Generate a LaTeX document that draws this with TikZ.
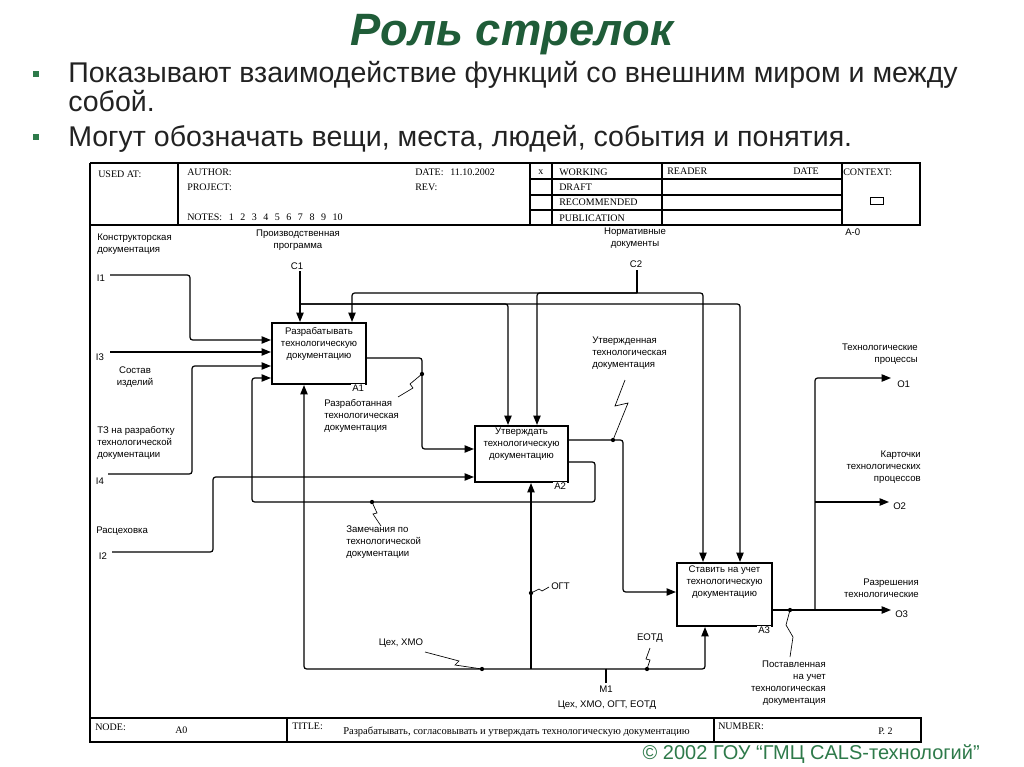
\documentclass[tikz,border=0pt]{standalone}
\usepackage{fontspec}
\setmainfont{Liberation Sans}
\newfontfamily\hdrfont{Liberation Serif}
\usetikzlibrary{arrows.meta,positioning,fit}
\definecolor{slGreen}{HTML}{1F5C38}
\definecolor{slBullet}{HTML}{2E7A4A}
\definecolor{slText}{HTML}{222222}

\begin{document}
\begin{tikzpicture}[
    x=0.75pt, y=-0.75pt,
    fbox/.style={draw, line width=1.6pt, inner sep=0pt},
    ftext/.style={align=center, font=\fontsize{7.2}{9}\selectfont, inner sep=0pt,
                  anchor=north, execute at begin node=\strut},
    lbl/.style={font=\fontsize{7.2}{9}\selectfont, inner sep=0pt,
                execute at begin node=\strut},
    boxnum/.style={font=\fontsize{7.2}{9}\selectfont, fill=white, inner sep=0.6pt,
                   anchor=north east},
    hdr/.style={font=\hdrfont\fontsize{7.5}{9}\selectfont, inner sep=0pt, anchor=base west},
    arr/.style={line width=0.9pt, rounded corners=2pt, -{Triangle[length=7pt,width=5.5pt]}},
    wire/.style={line width=0.9pt, rounded corners=2pt},
    squig/.style={line width=0.5pt},
    frame/.style={line width=0.8pt},
    jdot/.style={circle, fill, inner sep=0pt, minimum size=3.2pt},
    bullet/.style={fill=slBullet, inner sep=0pt, minimum size=5.2pt},
    slide/.style={font=\fontsize{21.4}{25}\selectfont, text=slText, inner sep=0pt, anchor=base west}
]
\useasboundingbox (0,0) rectangle (1024,767);
\fill[white] (0,0) rectangle (1024,767);

% -- slide heading and bullets
\node[font=\fontsize{34}{40}\selectfont\bfseries\itshape, text=slGreen, inner sep=0pt,
      anchor=base] (title) at (512,46) {Роль стрелок};
\node[bullet] (b1) at (36,74) {};
\node[slide] (b1a) at (68,83) {Показывают взаимодействие функций со внешним миром и между};
\node[slide] (b1b) at (68,111) {собой.};
\node[bullet] (b2) at (36,137) {};
\node[slide] (b2a) at (68,146) {Могут обозначать вещи, места, людей, события и понятия.};

% -- form frame: header
\draw[frame] (90,163) -- (920,163) -- (920,225) -- (90,225);
\draw[frame] (90,163) -- (90,742);
\foreach \xx in {178,530,552,662,842}
  \draw[frame] (\xx,163) -- (\xx,225);
\foreach \yy in {179,195,210}
  \draw[frame] (530,\yy) -- (842,\yy);
\draw[line width=0.6pt] (870.5,197.5) rectangle (883.5,204.5);

\node[hdr] (usedat) at (98,177) {USED AT:};
\node[hdr] (author) at (187,175) {AUTHOR:};
\node[hdr] (project) at (187,190) {PROJECT:};
\node[hdr] (notes) at (187,220) {\spaceskip=4.9pt\relax NOTES: 1 2 3 4 5 6 7 8 9 10};
\node[hdr] (date) at (415,175) {DATE:\hspace{5pt}11.10.2002};
\node[hdr] (rev) at (415,190) {REV:};
\node[hdr] (xmark) at (538,174.5) {x};
\node[hdr] (working) at (559,175) {WORKING};
\node[hdr] (draft) at (559,190) {DRAFT};
\node[hdr] (recomm) at (559,205.5) {RECOMMENDED};
\node[hdr] (public) at (559,221) {PUBLICATION};
\node[hdr] (reader) at (667,174) {READER};
\node[hdr] (rdate) at (793,174) {DATE};
\node[hdr] (context) at (843,175) {CONTEXT:};
\node[lbl, anchor=north west] (ctxnode) at (845,227) {A-0};

% -- form frame: footer
\draw[frame] (90,718) rectangle (921,742);
\draw[frame] (287,718) -- (287,742);
\draw[frame] (714,718) -- (714,742);
\node[hdr] (nodelbl) at (95,730) {NODE:};
\node[hdr] (nodeval) at (175,733) {A0};
\node[hdr] (titlelbl) at (292,729) {TITLE:};
\node[hdr, font=\hdrfont\fontsize{7.9}{9}\selectfont] (titleval) at (343,734)
  {Разрабатывать, согласовывать и утверждать технологическую документацию};
\node[hdr] (numlbl) at (718,729) {NUMBER:};
\node[hdr] (numval) at (878,734) {P. 2};

\node[font=\fontsize{15}{17}\selectfont, text=slBullet, inner sep=0pt, anchor=base east]
  (copyr) at (980,759) {© 2002 ГОУ “ГМЦ CALS-технологий”};

% -- function boxes
\node[fbox, fit={(272,323) (366,384)}] (a1) {};
\node[fbox, fit={(475,426) (568,482)}] (a2) {};
\node[fbox, fit={(677,563) (772,626)}] (a3) {};
\node[ftext] (a1t) at (a1.north |- 0,327) {Разрабатывать\\технологическую\\документацию};
\node[ftext] (a2t) at (a2.north |- 0,428) {Утверждать\\технологическую\\документацию};
\node[ftext] (a3t) at (a3.north |- 0,566) {Ставить на учет\\технологическую\\документацию};
\node[boxnum] (a1n) at ([xshift=-1.5pt,yshift=1pt]a1.south east) {A1};
\node[boxnum] (a2n) at ([xshift=-1.5pt,yshift=1pt]a2.south east) {A2};
\node[boxnum] (a3n) at ([xshift=-1.5pt,yshift=1pt]a3.south east) {A3};

% -- ends of the arrows
\coordinate (i1) at (110,275);
\coordinate (i3) at (110,352);
\coordinate (i4) at (108,474);
\coordinate (i2) at (112,552);
\coordinate (c1) at (300,271);
\coordinate (c1bus) at (300,304);
\coordinate (c2) at (637,270);
\coordinate (c2bus) at (637,293);
\coordinate (m1) at (606,683);
\coordinate (mbus) at (606,669);
\coordinate (o1) at (891,378);
\coordinate (o2) at (889,502);
\coordinate (o3) at (891,610);
\coordinate (osplit) at (815,610);

% -- inputs
\draw[arr] (i1) -| (190,340) -- (a1.west |- 0,340);
\draw[arr] (i3) -- (a1.west |- i3);
\draw[arr] (i4) -| (192,366) -- (a1.west |- 0,366);
\draw[arr] (i2) -| (213,477) -- (a2.west |- 0,477);

% -- between boxes
\draw[arr] (a1.east |- 0,358) -| (422,449) -- (a2.west |- 0,449);
\draw[arr] (a2.east |- 0,462) -| (595,502) -| (252,378) -- (a1.west |- 0,378);
\draw[arr] (a2.east |- 0,440) -| (623,592) -- (a3.west |- 0,592);

% -- outputs
\draw[arr] (a3.east |- o3) -- (o3);
\draw[arr] (osplit) |- (o1);
\draw[arr] (osplit |- o2) -- (o2);

% -- controls
\draw[arr] (c1) -- (a1.north -| c1);
\draw[arr] (c1bus) -| (a2.north -| 508,0);
\draw[arr] (c1bus) -| (a3.north -| 740,0);
\draw[wire] (c2) -- (c2bus);
\draw[arr] (c2bus) -| (a1.north -| 352,0);
\draw[arr] (c2bus) -| (a2.north -| 537,0);
\draw[arr] (c2bus) -| (a3.north -| 703,0);

% -- mechanisms
\draw[wire] (m1) -- (mbus);
\draw[arr] (mbus) -| (a1.south -| 304,0);
\draw[arr] (mbus) -| (a3.south -| 705,0);
\draw[arr] (mbus -| 531,0) -- (a2.south -| 531,0);

% -- junction dots and callouts
\node[jdot] (dfb) at (372,502) {};
\node[jdot] (da1) at (422,374) {};
\node[jdot] (da2) at (613,440) {};
\node[jdot] (dogt) at (531,593) {};
\node[jdot] (dceh) at (482,669) {};
\node[jdot] (deotd) at (647,669) {};
\node[jdot] (da3) at (790,610) {};
\draw[squig] (dfb.center) -- (377,513) -- (373,514) -- (381,526);
\draw[squig] (da1.center) -- (410,384) -- (413,388) -- (398,397);
\draw[squig] (da2.center) -- (628,403) -- (615,406) -- (625,380);
\draw[squig] (dogt.center) -- (539,589) -- (542,591) -- (549,587);
\draw[squig] (dceh.center) -- (455,665) -- (459,661) -- (425,652);
\draw[squig] (deotd.center) -- (650,660) -- (646,659) -- (650,648);
\draw[squig] (da3.center) -- (786,625) -- (793,637) -- (790,657);

% -- arrow labels
\node[lbl, align=left, anchor=north west] (lkonstr) at (97,234) {Конструкторская\\документация};
\node[lbl, align=center, anchor=north] (lprog) at (298,230) {Производственная\\программа};
\node[lbl, anchor=north] (lc1) at (297,261) {C1};
\node[lbl, align=center, anchor=north] (lnorm) at (635,228) {Нормативные\\документы};
\node[lbl, anchor=north] (lc2) at (636,259) {C2};
\node[lbl, anchor=north] (li1) at (101,273) {I1};
\node[lbl, anchor=north] (li3) at (100,352) {I3};
\node[lbl, align=center, anchor=north] (lsostav) at (135,367) {Состав\\изделий};
\node[lbl, align=left, anchor=north west] (ltz) at (97,426) {ТЗ на разработку\\технологической\\документации};
\node[lbl, anchor=north] (li4) at (100,476) {I4};
\node[lbl, anchor=north west] (lrasc) at (96,525) {Расцеховка};
\node[lbl, anchor=north] (li2) at (103,551) {I2};
\node[lbl, align=left, anchor=north west] (lrazr) at (324,399) {Разработанная\\технологическая\\документация};
\node[lbl, align=left, anchor=north west] (lzam) at (346,526) {Замечания по\\технологической\\документации};
\node[lbl, align=left, anchor=north west] (lutv) at (592,337) {Утвержденная\\технологическая\\документация};
\node[lbl, anchor=north west] (logt) at (551,581) {ОГТ};
\node[lbl, anchor=north] (lceh) at (401,637) {Цех, ХМО};
\node[lbl, anchor=north] (leotd) at (650,632) {ЕОТД};
\node[lbl, anchor=north] (lm1) at (606,684) {M1};
\node[lbl, anchor=north] (lm1t) at (607,699) {Цех, ХМО, ОГТ, ЕОТД};
\node[lbl, align=right, anchor=north east] (lproc) at (918,344) {Технологические\\процессы};
\node[lbl, anchor=north west] (lo1) at (897,379) {O1};
\node[lbl, align=right, anchor=north east] (lkart) at (921,451) {Карточки\\технологических\\процессов};
\node[lbl, anchor=north west] (lo2) at (893,501) {O2};
\node[lbl, align=right, anchor=north east] (lrazresh) at (919,579) {Разрешения\\технологические};
\node[lbl, anchor=north west] (lo3) at (895,609) {O3};
\node[lbl, align=right, anchor=north east] (lpost) at (826,661) {Поставленная\\на учет\\технологическая\\документация};

\end{tikzpicture}
\end{document}
